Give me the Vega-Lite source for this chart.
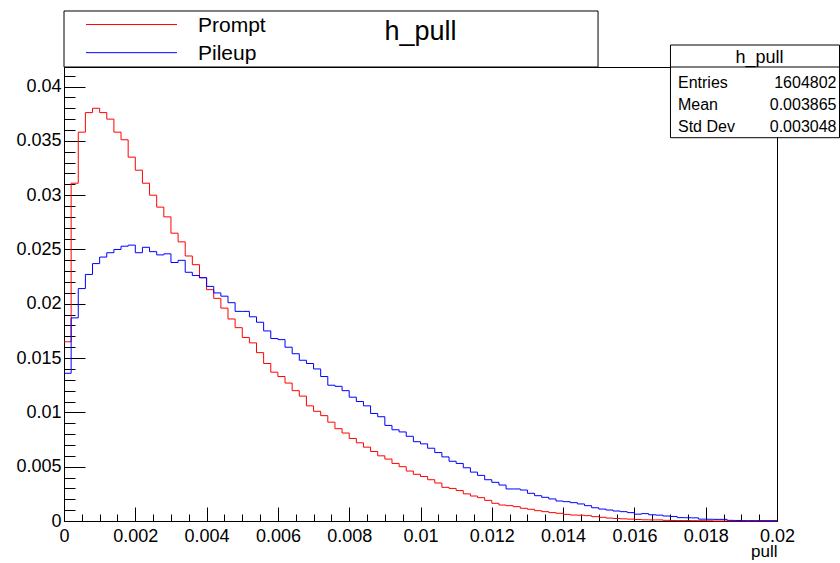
{
  "$schema": "https://vega.github.io/schema/vega-lite/v6.json",
  "width": 713,
  "height": 454,
  "autosize": "none",
  "padding": {"left": 64, "top": 67, "right": 63, "bottom": 42},
  "background": "white",
  "config": {
    "font": "Liberation Sans",
    "view": {"stroke": "#000000", "strokeWidth": 1},
    "axis": {
      "domainColor": "#000000",
      "domainWidth": 1,
      "tickColor": "#000000",
      "tickWidth": 1,
      "labelColor": "#000000",
      "labelFont": "Liberation Sans",
      "labelFontSize": 18,
      "labelFlush": false,
      "labelOverlap": false,
      "grid": false,
      "titleFont": "Liberation Sans",
      "titleFontWeight": "normal",
      "titleColor": "#000000"
    },
    "text": {"font": "Liberation Sans", "color": "#000000"}
  },
  "resolve": {"axis": {"x": "independent", "y": "independent"}},
  "datasets": {
    "h": [
      {"x": 0, "Prompt": 0.0165, "Pileup": 0.0136},
      {"x": 0.0002, "Prompt": 0.0311, "Pileup": 0.0187},
      {"x": 0.0004, "Prompt": 0.0358, "Pileup": 0.0214},
      {"x": 0.0006, "Prompt": 0.0376, "Pileup": 0.0227},
      {"x": 0.0008, "Prompt": 0.0380, "Pileup": 0.0237},
      {"x": 0.001, "Prompt": 0.0376, "Pileup": 0.0243},
      {"x": 0.0012, "Prompt": 0.0370, "Pileup": 0.0247},
      {"x": 0.0014, "Prompt": 0.0358, "Pileup": 0.0250},
      {"x": 0.0016, "Prompt": 0.0351, "Pileup": 0.0253},
      {"x": 0.0018, "Prompt": 0.0335, "Pileup": 0.0254},
      {"x": 0.002, "Prompt": 0.0323, "Pileup": 0.0247},
      {"x": 0.0022, "Prompt": 0.0311, "Pileup": 0.0252},
      {"x": 0.0024, "Prompt": 0.0300, "Pileup": 0.0248},
      {"x": 0.0026, "Prompt": 0.0289, "Pileup": 0.0245},
      {"x": 0.0028, "Prompt": 0.0280, "Pileup": 0.0246},
      {"x": 0.003, "Prompt": 0.0265, "Pileup": 0.0238},
      {"x": 0.0032, "Prompt": 0.0257, "Pileup": 0.0240},
      {"x": 0.0034, "Prompt": 0.0244, "Pileup": 0.0229},
      {"x": 0.0036, "Prompt": 0.0236, "Pileup": 0.0226},
      {"x": 0.0038, "Prompt": 0.0224, "Pileup": 0.0224},
      {"x": 0.004, "Prompt": 0.0213, "Pileup": 0.0216},
      {"x": 0.0042, "Prompt": 0.0205, "Pileup": 0.0210},
      {"x": 0.0044, "Prompt": 0.0196, "Pileup": 0.0207},
      {"x": 0.0046, "Prompt": 0.0186, "Pileup": 0.0201},
      {"x": 0.0048, "Prompt": 0.0178, "Pileup": 0.0193},
      {"x": 0.005, "Prompt": 0.0169, "Pileup": 0.0193},
      {"x": 0.0052, "Prompt": 0.0164, "Pileup": 0.0188},
      {"x": 0.0054, "Prompt": 0.0155, "Pileup": 0.0183},
      {"x": 0.0056, "Prompt": 0.0145, "Pileup": 0.0175},
      {"x": 0.0058, "Prompt": 0.0137, "Pileup": 0.0168},
      {"x": 0.006, "Prompt": 0.0133, "Pileup": 0.0167},
      {"x": 0.0062, "Prompt": 0.0127, "Pileup": 0.0160},
      {"x": 0.0064, "Prompt": 0.0120, "Pileup": 0.0154},
      {"x": 0.0066, "Prompt": 0.0115, "Pileup": 0.0148},
      {"x": 0.0068, "Prompt": 0.0106, "Pileup": 0.0145},
      {"x": 0.007, "Prompt": 0.0101, "Pileup": 0.0140},
      {"x": 0.0072, "Prompt": 0.0097, "Pileup": 0.0133},
      {"x": 0.0074, "Prompt": 0.0091, "Pileup": 0.0125},
      {"x": 0.0076, "Prompt": 0.0085, "Pileup": 0.0124},
      {"x": 0.0078, "Prompt": 0.0081, "Pileup": 0.0120},
      {"x": 0.008, "Prompt": 0.0076, "Pileup": 0.0114},
      {"x": 0.0082, "Prompt": 0.0072, "Pileup": 0.0110},
      {"x": 0.0084, "Prompt": 0.0068, "Pileup": 0.0106},
      {"x": 0.0086, "Prompt": 0.0064, "Pileup": 0.0099},
      {"x": 0.0088, "Prompt": 0.0060, "Pileup": 0.0096},
      {"x": 0.009, "Prompt": 0.0057, "Pileup": 0.0088},
      {"x": 0.0092, "Prompt": 0.0053, "Pileup": 0.0084},
      {"x": 0.0094, "Prompt": 0.0050, "Pileup": 0.0082},
      {"x": 0.0096, "Prompt": 0.0046, "Pileup": 0.0078},
      {"x": 0.0098, "Prompt": 0.0043, "Pileup": 0.0073},
      {"x": 0.01, "Prompt": 0.0041, "Pileup": 0.0071},
      {"x": 0.0102, "Prompt": 0.0038, "Pileup": 0.0067},
      {"x": 0.0104, "Prompt": 0.0035, "Pileup": 0.0063},
      {"x": 0.0106, "Prompt": 0.0031, "Pileup": 0.0059},
      {"x": 0.0108, "Prompt": 0.0030, "Pileup": 0.0055},
      {"x": 0.011, "Prompt": 0.0028, "Pileup": 0.0053},
      {"x": 0.0112, "Prompt": 0.0025, "Pileup": 0.0049},
      {"x": 0.0114, "Prompt": 0.0023, "Pileup": 0.0045},
      {"x": 0.0116, "Prompt": 0.00215, "Pileup": 0.0042},
      {"x": 0.0118, "Prompt": 0.0019, "Pileup": 0.0038},
      {"x": 0.012, "Prompt": 0.00163, "Pileup": 0.00356},
      {"x": 0.0122, "Prompt": 0.00147, "Pileup": 0.00331},
      {"x": 0.0124, "Prompt": 0.00141, "Pileup": 0.00295},
      {"x": 0.0126, "Prompt": 0.00132, "Pileup": 0.00295},
      {"x": 0.0128, "Prompt": 0.00117, "Pileup": 0.00285},
      {"x": 0.013, "Prompt": 0.00108, "Pileup": 0.00255},
      {"x": 0.0132, "Prompt": 0.00095, "Pileup": 0.00233},
      {"x": 0.0134, "Prompt": 0.00086, "Pileup": 0.00218},
      {"x": 0.0136, "Prompt": 0.00077, "Pileup": 0.00203},
      {"x": 0.0138, "Prompt": 0.00071, "Pileup": 0.00184},
      {"x": 0.014, "Prompt": 0.00061, "Pileup": 0.00178},
      {"x": 0.0142, "Prompt": 0.00055, "Pileup": 0.00169},
      {"x": 0.0144, "Prompt": 0.00053, "Pileup": 0.00157},
      {"x": 0.0146, "Prompt": 0.00049, "Pileup": 0.00141},
      {"x": 0.0148, "Prompt": 0.0004, "Pileup": 0.00122},
      {"x": 0.015, "Prompt": 0.00034, "Pileup": 0.0011},
      {"x": 0.0152, "Prompt": 0.00027, "Pileup": 0.00101},
      {"x": 0.0154, "Prompt": 0.00023, "Pileup": 0.00092},
      {"x": 0.0156, "Prompt": 0.0002, "Pileup": 0.00086},
      {"x": 0.0158, "Prompt": 0.00017, "Pileup": 0.00077},
      {"x": 0.016, "Prompt": 0.00014, "Pileup": 0.00063},
      {"x": 0.0162, "Prompt": 0.00011, "Pileup": 0.00068},
      {"x": 0.0164, "Prompt": 0.0001, "Pileup": 0.00057},
      {"x": 0.0166, "Prompt": 0.0001, "Pileup": 0.00054},
      {"x": 0.0168, "Prompt": 0.00006, "Pileup": 0.00046},
      {"x": 0.017, "Prompt": 0.00005, "Pileup": 0.00042},
      {"x": 0.0172, "Prompt": 0.00004, "Pileup": 0.00031},
      {"x": 0.0174, "Prompt": 0.00004, "Pileup": 0.0003},
      {"x": 0.0176, "Prompt": 0.00003, "Pileup": 0.00029},
      {"x": 0.0178, "Prompt": 0.00003, "Pileup": 0.00017},
      {"x": 0.018, "Prompt": 0.00002, "Pileup": 0.00016},
      {"x": 0.0182, "Prompt": 0, "Pileup": 0.00015},
      {"x": 0.0184, "Prompt": 0, "Pileup": 0.00015},
      {"x": 0.0186, "Prompt": 0, "Pileup": 0.00006},
      {"x": 0.0188, "Prompt": 0, "Pileup": 0.00005},
      {"x": 0.019, "Prompt": 0, "Pileup": 0.00003},
      {"x": 0.0192, "Prompt": 0, "Pileup": 0.00003},
      {"x": 0.0194, "Prompt": 0, "Pileup": 0.00003},
      {"x": 0.0196, "Prompt": 0, "Pileup": 0.00003},
      {"x": 0.0198, "Prompt": 0, "Pileup": 0.00003},
      {"x": 0.02, "Prompt": 0, "Pileup": 0.00003}
    ],
    "one": [{}]
  },
  "layer": [
    {
      "data": {"name": "h"},
      "transform": [{"fold": ["Prompt", "Pileup"], "as": ["series", "value"]}],
      "mark": {"type": "line", "interpolate": "step-after", "strokeWidth": 1},
      "encoding": {
        "x": {
          "field": "x", "type": "quantitative",
          "scale": {"domain": [0, 0.02], "nice": false, "zero": false},
          "axis": {
            "orient": "bottom",
            "values": [0, 0.002, 0.004, 0.006, 0.008, 0.01, 0.012, 0.014, 0.016, 0.018, 0.02],
            "format": "~g",
            "tickSize": -14,
            "labelPadding": 20,
            "title": "pull",
            "titleFontSize": 17,
            "titleX": 713,
            "titleY": 35,
            "titleAlign": "right",
            "titleBaseline": "alphabetic"
          }
        },
        "y": {
          "field": "value", "type": "quantitative",
          "scale": {"domain": [0, 0.0418], "nice": false},
          "axis": {
            "orient": "left",
            "values": [0, 0.005, 0.01, 0.015, 0.02, 0.025, 0.03, 0.035, 0.04],
            "format": "~g",
            "tickSize": -21,
            "labelPadding": 24,
            "title": null
          }
        },
        "color": {
          "field": "series", "type": "nominal",
          "scale": {"domain": ["Prompt", "Pileup"], "range": ["#ff0000", "#0000ff"]},
          "legend": null
        }
      }
    },
    {
      "data": {"name": "one"},
      "mark": {"type": "rect", "fill": "white", "stroke": "#000000", "strokeWidth": 1},
      "encoding": {
        "x": {
          "datum": 0, "type": "quantitative",
          "axis": {
            "orient": "bottom",
            "values": [0.0005, 0.001, 0.0015, 0.0025, 0.003, 0.0035, 0.0045, 0.005, 0.0055, 0.0065, 0.007, 0.0075, 0.0085, 0.009, 0.0095, 0.0105, 0.011, 0.0115, 0.0125, 0.013, 0.0135, 0.0145, 0.015, 0.0155, 0.0165, 0.017, 0.0175, 0.0185, 0.019, 0.0195],
            "tickSize": -7, "labels": false, "domain": false, "title": null
          }
        },
        "x2": {"datum": 0.01498},
        "y": {
          "datum": 0.046956, "type": "quantitative",
          "axis": {
            "orient": "left",
            "values": [0.001, 0.002, 0.003, 0.004, 0.006, 0.007, 0.008, 0.009, 0.011, 0.012, 0.013, 0.014, 0.016, 0.017, 0.018, 0.019, 0.021, 0.022, 0.023, 0.024, 0.026, 0.027, 0.028, 0.029, 0.031, 0.032, 0.033, 0.034, 0.036, 0.037, 0.038, 0.039, 0.041],
            "tickSize": -11, "labels": false, "domain": false, "title": null
          }
        },
        "y2": {"datum": 0.0418}
      }
    },
    {
      "data": {"name": "one"},
      "mark": {"type": "rule", "strokeWidth": 1},
      "encoding": {
        "x": {"datum": 0.000617, "type": "quantitative", "axis": null},
        "x2": {"datum": 0.00317},
        "y": {"datum": 0.04571, "type": "quantitative", "axis": null},
        "color": {"datum": "Prompt", "type": "nominal", "legend": null}
      }
    },
    {
      "data": {"name": "one"},
      "mark": {"type": "rule", "strokeWidth": 1},
      "encoding": {
        "x": {"datum": 0.000617, "type": "quantitative", "axis": null},
        "x2": {"datum": 0.00317},
        "y": {"datum": 0.04312, "type": "quantitative", "axis": null},
        "color": {"datum": "Pileup", "type": "nominal", "legend": null}
      }
    },
    {
      "data": {"name": "one"},
      "mark": {"type": "text", "text": "Prompt", "fontSize": 21, "align": "left", "baseline": "alphabetic"},
      "encoding": {
        "x": {"datum": 0.003759, "type": "quantitative", "axis": null},
        "y": {"datum": 0.045068, "type": "quantitative", "axis": null}
      }
    },
    {
      "data": {"name": "one"},
      "mark": {"type": "text", "text": "Pileup", "fontSize": 21, "align": "left", "baseline": "alphabetic"},
      "encoding": {
        "x": {"datum": 0.003759, "type": "quantitative", "axis": null},
        "y": {"datum": 0.04249, "type": "quantitative", "axis": null}
      }
    },
    {
      "data": {"name": "one"},
      "mark": {"type": "text", "text": "h_pull", "fontSize": 27, "align": "center", "baseline": "alphabetic"},
      "encoding": {
        "x": {"datum": 0.01, "type": "quantitative", "axis": null},
        "y": {"datum": 0.04429, "type": "quantitative", "axis": null}
      }
    },
    {
      "data": {"name": "one"},
      "mark": {"type": "rect", "fill": "white", "stroke": "#000000", "strokeWidth": 1},
      "encoding": {
        "x": {"datum": 0.017012, "type": "quantitative", "axis": null},
        "x2": {"datum": 0.021753},
        "y": {"datum": 0.043825, "type": "quantitative", "axis": null},
        "y2": {"datum": 0.03529}
      }
    },
    {
      "data": {"name": "one"},
      "mark": {"type": "rule", "strokeWidth": 1, "color": "#000000"},
      "encoding": {
        "x": {"datum": 0.017012, "type": "quantitative", "axis": null},
        "x2": {"datum": 0.021753},
        "y": {"datum": 0.0418, "type": "quantitative", "axis": null}
      }
    },
    {
      "data": {"name": "one"},
      "mark": {"type": "text", "text": "h_pull", "fontSize": 18, "align": "center", "baseline": "alphabetic"},
      "encoding": {
        "x": {"datum": 0.019509, "type": "quantitative", "axis": null},
        "y": {"datum": 0.04217, "type": "quantitative", "axis": null}
      }
    },
    {
      "data": {"name": "one"},
      "mark": {"type": "text", "text": ["Entries", "Mean", "Std Dev"], "fontSize": 16, "lineHeight": 21.8, "align": "left", "baseline": "alphabetic"},
      "encoding": {
        "x": {"datum": 0.017223, "type": "quantitative", "axis": null},
        "y": {"datum": 0.039866, "type": "quantitative", "axis": null}
      }
    },
    {
      "data": {"name": "one"},
      "mark": {"type": "text", "text": ["1604802", "0.003865", "0.003048"], "fontSize": 16, "lineHeight": 21.8, "align": "right", "baseline": "alphabetic"},
      "encoding": {
        "x": {"datum": 0.021669, "type": "quantitative", "axis": null},
        "y": {"datum": 0.039866, "type": "quantitative", "axis": null}
      }
    }
  ]
}
